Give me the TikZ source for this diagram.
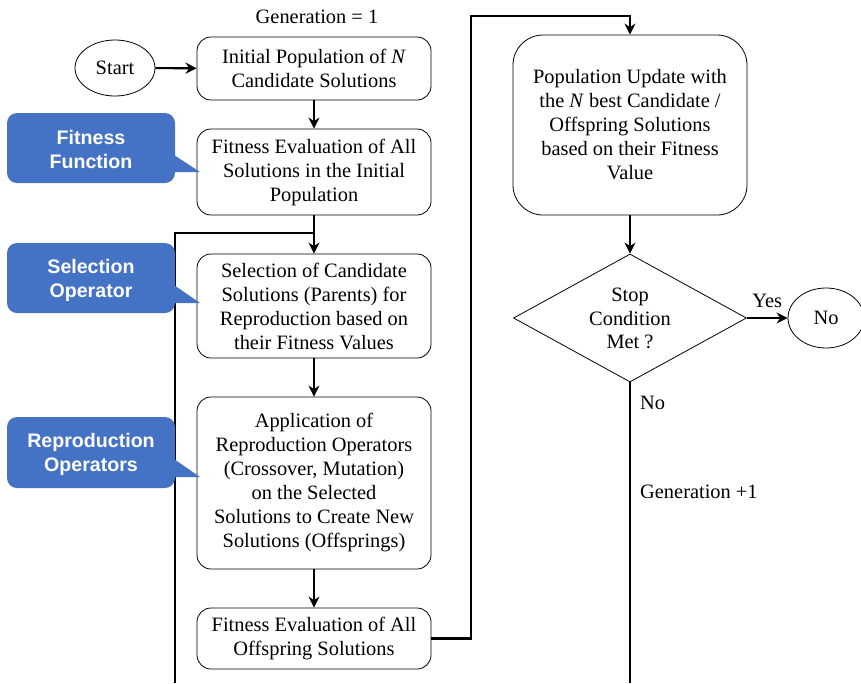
\documentclass[tikz,border=0pt]{standalone}
\usepackage{fontspec}
\setmainfont{Liberation Serif}
\newfontfamily\calloutfont{Liberation Sans}
\usetikzlibrary{shapes.geometric,arrows.meta}
\definecolor{cblue}{RGB}{68,114,196}
\begin{document}
\begin{tikzpicture}[x=1pt,y=-1pt,
  txt/.style={font=\fontsize{20.4}{24}\selectfont,align=center,inner sep=0pt},
  box/.style={txt,draw,line width=0.8pt,rounded corners=14pt,minimum width=234pt},
  bigbox/.style={box,rounded corners=30pt},
  oval/.style={txt,draw,ellipse,line width=0.8pt},
  conn/.style={line width=2.2pt,-{Stealth[length=11pt,width=11pt,inset=3.5pt]}},
  line/.style={line width=2.2pt},
  callout/.style={fill=cblue},
  ctext/.style={font=\calloutfont\bfseries\fontsize{19.6}{24}\selectfont,text=white,align=center,inner sep=0pt}]
\useasboundingbox (0,0) rectangle (861,683);

% flowchart nodes
\node[txt] (gen) at (317,17) {Generation = 1};
\node[oval,minimum width=80pt,minimum height=56pt] (start) at (115,68) {Start};
\node[box,minimum height=63pt] (init) at (314,68.5) {Initial Population of \textit{N}\\Candidate Solutions};
\node[box,minimum height=86pt] (fe1) at (314,172) {Fitness Evaluation of All\\Solutions in the Initial\\Population};
\node[box,minimum height=104pt] (sel) at (314,306) {Selection of Candidate\\Solutions (Parents) for\\Reproduction based on\\their Fitness Values};
\node[box,minimum height=172pt] (app) at (314,483) {Application of\\Reproduction Operators\\(Crossover, Mutation)\\on the Selected\\Solutions to Create New\\Solutions (Offsprings)};
\node[box,minimum height=61pt] (fe2) at (314,638.5) {Fitness Evaluation of All\\Offspring Solutions};
\node[bigbox,minimum width=234pt,minimum height=180pt] (upd) at (630,125) {Population Update with\\the \textit{N} best Candidate /\\Offspring Solutions\\based on their Fitness\\Value};
\node[draw,diamond,line width=0.8pt,minimum width=233pt,minimum height=128pt,inner sep=0pt] (dia) at (630,318) {};
\node[txt,font=\fontsize{20.4}{23.5}\selectfont] (diatext) at (630,318.5) {Stop\\Condition\\Met ?};
\node[oval,minimum width=76pt,minimum height=60pt] (stop) at (826,318) {No};
\node[txt,anchor=west] (nolab) at (640,403) {No};
\node[txt,anchor=west] (genp) at (640,492) {Generation +1};

% connectors
\coordinate (loopbot) at (175,683);
\coordinate (join) at (314,233);
\coordinate (r1) at (471,638.5);
\coordinate (r2) at (471,16);
\coordinate (diabot) at (630,683);

\draw[conn] (start) -- (init);
\draw[conn] (init) -- (fe1);
\draw[conn] (fe1) -- (sel);
\draw[line] (loopbot) |- (join);
\draw[conn] (sel) -- (app);
\draw[conn] (app) -- (fe2);
\draw[conn] (fe2.east) -- (r1) -- (r2) -| (upd.north);
\draw[conn] (upd) -- (dia.north);
\draw[conn] (dia.east) -- node[txt,above=9pt] (yes) {Yes} (stop.west);
\draw[line] (dia.south) -- (diabot);

% callouts
\fill[callout,rounded corners=10pt] (7,113) rectangle (175,183);
\fill[callout] (174,155) -- (200,172) -- (174,172) -- cycle;
\node[ctext] (cff) at (91,149) {Fitness\\Function};

\fill[callout,rounded corners=10pt] (7,243) rectangle (175,313);
\fill[callout] (174,285) -- (200,303) -- (174,303) -- cycle;
\node[ctext] (cso) at (91,280) {Selection\\Operator};

\fill[callout,rounded corners=10pt] (7,417) rectangle (175,488);
\fill[callout] (174,459) -- (200,477) -- (174,477) -- cycle;
\node[ctext] (cro) at (91,454) {Reproduction\\Operators};
\end{tikzpicture}
\end{document}
